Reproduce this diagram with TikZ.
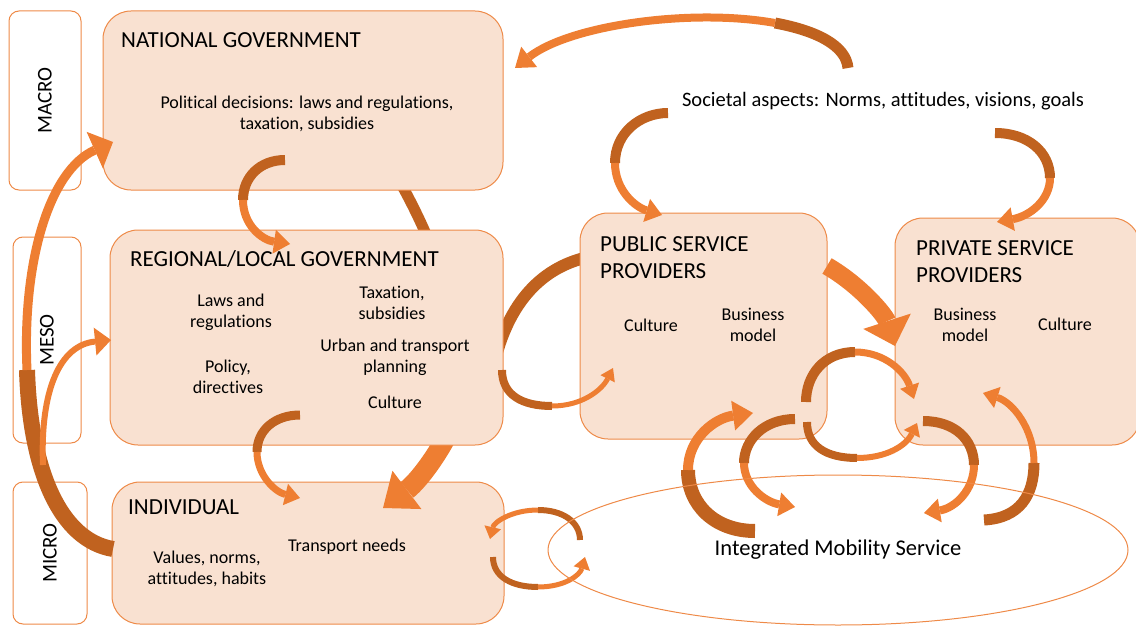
\documentclass[tikz,border=0pt]{standalone}
\usepackage{fontspec}
\setmainfont{Carlito}[Ligatures=NoCommon]
\usepackage{tikz}
\usetikzlibrary{arrows.meta,shapes.geometric}

\definecolor{boxfill}{HTML}{F9E1D1}
\definecolor{boxline}{HTML}{EE8A48}
\definecolor{arrlite}{HTML}{EE7E32}
\definecolor{arrdark}{HTML}{C0621F}

\tikzset{
  mainbox/.style={draw=boxline, fill=boxfill, line width=1pt, rounded corners=28pt, inner sep=0pt},
  levelbox/.style={draw=boxline, fill=white, line width=1pt, rounded corners=10pt, inner sep=0pt},
  levelname/.style={rotate=90, inner sep=0pt, font=\fontsize{21}{25}\selectfont},
  headtext/.style={anchor=west, align=left, inner sep=0pt, font=\fontsize{23}{27}\selectfont},
  bodytext/.style={align=center, inner sep=0pt, font=\fontsize{18}{21.5}\selectfont},
  darkpart/.style={arrdark, line width=#1},
  litepart/.style n args={3}{arrlite, line width=#1, -{Triangle[width=#2, length=#3, line width=0pt]}},
}

\begin{document}
\begin{tikzpicture}[x=1pt, y=-1pt]
\useasboundingbox (0,0) rectangle (1136,626);

% levels
\node[levelbox, minimum width=72pt, minimum height=179pt] (macro) at (45,100.5) {};
\node[levelbox, minimum width=68pt, minimum height=206pt] (meso) at (47,340) {};
\node[levelbox, minimum width=74pt, minimum height=142pt] (micro) at (50,553) {};
\node[levelname] (macrotxt) at (macro) {MACRO};
\node[levelname] (mesotxt) at (meso) {MESO};
\node[levelname] (microtxt) at (micro) {MICRO};

% boxes under the arrows
\node[mainbox, minimum width=392pt, minimum height=142pt] (ind) at (308,553) {};
\node[mainbox, minimum width=245pt, minimum height=227pt] (priv) at (1017.5,331.5) {};

% arrows behind the boxes
\coordinate (n2i1) at (390,165); \coordinate (n2i2) at (462,400); \coordinate (n2i3) at (383,508);
\draw[darkpart=11pt] (n2i1) .. controls (430,230) and (470,330) .. (n2i2);
\draw[litepart={20pt}{48pt}{30pt}] (n2i2) .. controls (450,440) and (420,480) .. (n2i3);
\coordinate (p2r1) at (600,255); \coordinate (p2r2) at (495,360);
\draw[darkpart=12pt] (p2r1) .. controls (545,262) and (510,300) .. (p2r2);

\node[mainbox, minimum width=400pt, minimum height=179pt] (nat) at (303,100.5) {};
\node[mainbox, minimum width=393pt, minimum height=215pt] (reg) at (306.5,337.5) {};
\node[mainbox, minimum width=247pt, minimum height=226pt] (pub) at (703.5,326) {};

% texts
\node[headtext] (nattitle) at (121,40) {NATIONAL GOVERNMENT};
\node[bodytext] (natbody) at (307,114) {Political decisions: laws and regulations,\\taxation, subsidies};
\node[headtext] (regtitle) at (130,259) {REGIONAL/LOCAL GOVERNMENT};
\node[bodytext] (laws) at (231,312.5) {Laws and\\regulations};
\node[bodytext] (policy) at (228,377) {Policy,\\directives};
\node[bodytext] (tax) at (392,303) {Taxation,\\subsidies};
\node[bodytext] (urban) at (395,357.5) {Urban and transport\\planning};
\node[bodytext] (regcult) at (395,402) {Culture};
\node[headtext] (indtitle) at (128,507) {INDIVIDUAL};
\node[bodytext] (values) at (207,569) {Values, norms,\\attitudes, habits};
\node[bodytext] (needs) at (347,547) {Transport needs};
\node[headtext] (pubtitle) at (600,257.5) {PUBLIC SERVICE\\PROVIDERS};
\node[bodytext] (pubcult) at (651,325) {Culture};
\node[bodytext] (pubmodel) at (753,325) {Business\\model};
\node[headtext] (privtitle) at (916,261.5) {PRIVATE SERVICE\\PROVIDERS};
\node[bodytext] (privmodel) at (965,325) {Business\\model};
\node[bodytext] (privcult) at (1065,324) {Culture};
\node[inner sep=0pt, font=\fontsize{20.5}{24}\selectfont] (soc) at (883,101) {Societal aspects: Norms, attitudes, visions, goals};

% societal -> national
\coordinate (s2n1) at (848,68); \coordinate (s2n2) at (775,23); \coordinate (s2n3) at (515,68);
\draw[darkpart=11pt] (s2n1) .. controls (846,46) and (818,31) .. (s2n2);
\draw[litepart={8pt}{26pt}{18pt}] (s2n2) .. controls (692,8) and (570,25) .. (s2n3);

% micro -> macro
\coordinate (i2n1) at (113,549); \coordinate (i2n2) at (27,370); \coordinate (i2n3) at (113,142);
\draw[darkpart=16pt] (i2n1) .. controls (60,540) and (30,470) .. (i2n2);
\draw[litepart={9pt}{40pt}{20pt}] (i2n2) .. controls (22,260) and (50,170) .. (i2n3);

% micro -> meso
\coordinate (i2r1) at (43,465); \coordinate (i2r2) at (111,340);
\draw[litepart={6pt}{28pt}{16pt}] (i2r1) .. controls (40,390) and (60,345) .. (i2r2);

% national -> regional
\coordinate (n2r1) at (285,160); \coordinate (n2r2) at (243,200); \coordinate (n2r3) at (290,244);
\draw[darkpart=10pt] (n2r1) .. controls (260,160) and (243,177) .. (n2r2);
\draw[litepart={8pt}{24pt}{16pt}] (n2r2) .. controls (243,225) and (262,240) .. (n2r3);

% regional -> individual
\coordinate (r2i1) at (300,415); \coordinate (r2i2) at (257,452); \coordinate (r2i3) at (300,498);
\draw[darkpart=9pt] (r2i1) .. controls (275,415) and (257,430) .. (r2i2);
\draw[litepart={7pt}{22pt}{15pt}] (r2i2) .. controls (257,475) and (275,492) .. (r2i3);

% regional -> public
\coordinate (r2p1) at (502,370); \coordinate (r2p2) at (552,406); \coordinate (r2p3) at (613,368);
\draw[darkpart=8pt] (r2p1) .. controls (502,395) and (522,406) .. (r2p2);
\draw[litepart={5pt}{16pt}{12pt}] (r2p2) .. controls (582,406) and (602,390) .. (r2p3);

% societal -> public, private
\coordinate (s2p1) at (668,113); \coordinate (s2p2) at (615,163); \coordinate (s2p3) at (662,215);
\draw[darkpart=10pt] (s2p1) .. controls (640,113) and (615,133) .. (s2p2);
\draw[litepart={8pt}{24pt}{16pt}] (s2p2) .. controls (615,190) and (635,207) .. (s2p3);
\coordinate (s2v1) at (995,133); \coordinate (s2v2) at (1050,178); \coordinate (s2v3) at (997,222);
\draw[darkpart=10pt] (s2v1) .. controls (1028,133) and (1050,152) .. (s2v2);
\draw[litepart={8pt}{24pt}{16pt}] (s2v2) .. controls (1050,200) and (1030,216) .. (s2v3);

% public -> private
\coordinate (p2v1) at (827,266); \coordinate (p2v2) at (895,346);
\draw[litepart={18pt}{50pt}{26pt}] (p2v1) .. controls (860,285) and (885,315) .. (p2v2);

% loop between providers
\coordinate (lpa1) at (806,402); \coordinate (lpa2) at (855,352); \coordinate (lpa3) at (914,399);
\draw[darkpart=10pt] (lpa1) .. controls (806,375) and (824,352) .. (lpa2);
\draw[litepart={7pt}{20pt}{14pt}] (lpa2) .. controls (885,352) and (905,372) .. (lpa3);
\coordinate (lpb1) at (807,422); \coordinate (lpb2) at (857,458); \coordinate (lpb3) at (917,423);
\draw[darkpart=8pt] (lpb1) .. controls (807,446) and (826,458) .. (lpb2);
\draw[litepart={6pt}{18pt}{12pt}] (lpb2) .. controls (886,458) and (906,446) .. (lpb3);

% public <-> mobility
\coordinate (m2p1) at (755,531); \coordinate (m2p2) at (688,470); \coordinate (m2p3) at (753,413);
\draw[darkpart=14pt] (m2p1) .. controls (715,531) and (688,505) .. (m2p2);
\draw[litepart={10pt}{30pt}{20pt}] (m2p2) .. controls (688,438) and (715,418) .. (m2p3);
\coordinate (p2m1) at (795,419); \coordinate (p2m2) at (744,463); \coordinate (p2m3) at (795,507);
\draw[darkpart=10pt] (p2m1) .. controls (764,419) and (744,440) .. (p2m2);
\draw[litepart={8pt}{24pt}{16pt}] (p2m2) .. controls (744,486) and (765,502) .. (p2m3);

% private <-> mobility
\coordinate (v2m1) at (923,421); \coordinate (v2m2) at (974,465); \coordinate (v2m3) at (924,513);
\draw[darkpart=10pt] (v2m1) .. controls (955,421) and (974,440) .. (v2m2);
\draw[litepart={8pt}{24pt}{16pt}] (v2m2) .. controls (974,490) and (955,508) .. (v2m3);
\coordinate (m2v1) at (984,520); \coordinate (m2v2) at (1034,463); \coordinate (m2v3) at (983,393);
\draw[darkpart=11pt] (m2v1) .. controls (1020,518) and (1034,495) .. (m2v2);
\draw[litepart={7pt}{22pt}{15pt}] (m2v2) .. controls (1034,428) and (1012,402) .. (m2v3);

% individual <-> mobility
\coordinate (m2i1) at (580,540); \coordinate (m2i2) at (538,510); \coordinate (m2i3) at (490,539);
\draw[darkpart=6pt] (m2i1) .. controls (580,522) and (563,510) .. (m2i2);
\draw[litepart={5pt}{17pt}{12pt}] (m2i2) .. controls (512,510) and (494,522) .. (m2i3);
\coordinate (i2m1) at (493,557); \coordinate (i2m2) at (538,587); \coordinate (i2m3) at (585,557);
\draw[darkpart=6pt] (i2m1) .. controls (493,577) and (512,587) .. (i2m2);
\draw[litepart={5pt}{17pt}{12pt}] (i2m2) .. controls (565,587) and (580,575) .. (i2m3);

% mobility service
\node[ellipse, draw=boxline, line width=1pt, minimum width=580pt, minimum height=150pt, inner sep=0pt,
      font=\fontsize{22.5}{27}\selectfont] (ims) at (838,550) {Integrated Mobility Service};

\end{tikzpicture}
\end{document}
